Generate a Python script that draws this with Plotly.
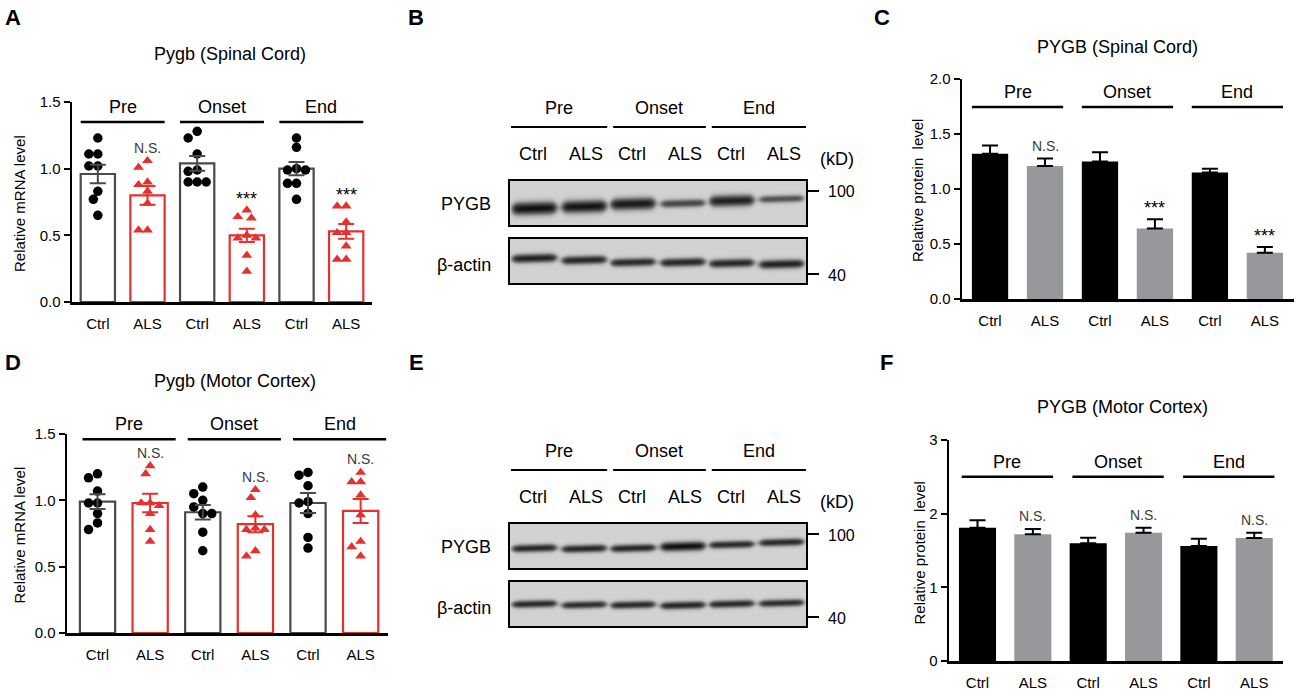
import numpy as np
import plotly.graph_objects as go

LANES = ["Ctrl", "ALS", "Ctrl", "ALS", "Ctrl", "ALS"]
STAGES = ["Pre", "Onset", "End"]

# A: Pygb mRNA, spinal cord (one value per animal, lanes in LANES order)
A_POINTS = [
    [1.23, 1.11, 1.11, 1.02, 1.02, 0.83, 0.77, 0.65],
    [1.06, 1.01, 0.90, 0.88, 0.83, 0.74, 0.54, 0.54],
    [1.28, 1.23, 1.11, 0.99, 0.98, 0.90, 0.90, 0.90],
    [0.69, 0.64, 0.63, 0.50, 0.48, 0.48, 0.35, 0.23],
    [1.23, 1.16, 1.00, 0.99, 0.99, 0.89, 0.89, 0.77],
    [0.72, 0.72, 0.60, 0.52, 0.52, 0.42, 0.32, 0.32],
]
A_MEAN = [0.96, 0.80, 1.04, 0.50, 1.00, 0.53]
A_SEM = [0.07, 0.07, 0.055, 0.05, 0.05, 0.055]
SIG_A = ["", "N.S.", "", "***", "", "***"]

# C: PYGB protein, spinal cord
C_MEAN = [1.32, 1.21, 1.25, 0.64, 1.15, 0.42]
C_SEM = [0.075, 0.067, 0.085, 0.085, 0.033, 0.052]
SIG_C = ["", "N.S.", "", "***", "", "***"]

# D: Pygb mRNA, motor cortex
D_POINTS = [
    [1.20, 1.17, 1.07, 0.98, 0.98, 0.90, 0.83, 0.78],
    [1.26, 1.20, 0.98, 0.98, 0.96, 0.90, 0.78, 0.69],
    [1.10, 1.05, 1.00, 0.95, 0.90, 0.90, 0.76, 0.62],
    [1.08, 1.02, 0.89, 0.79, 0.78, 0.78, 0.62, 0.58],
    [1.21, 1.19, 1.11, 0.99, 0.98, 0.90, 0.72, 0.64],
    [1.21, 1.14, 1.14, 1.04, 0.89, 0.69, 0.65, 0.58],
]
D_MEAN = [0.99, 0.98, 0.91, 0.82, 0.98, 0.92]
D_SEM = [0.055, 0.07, 0.055, 0.06, 0.075, 0.09]
SIG_D = ["", "N.S.", "", "N.S.", "", "N.S."]

# F: PYGB protein, motor cortex
F_MEAN = [1.81, 1.72, 1.60, 1.74, 1.56, 1.67]
F_SEM = [0.10, 0.072, 0.072, 0.068, 0.10, 0.072]
SIG_F = ["", "N.S.", "", "N.S.", "", "N.S."]

# western blot band strength per lane (0 = none, 1 = saturated)
B_PYGB = [0.95, 0.93, 0.90, 0.62, 0.86, 0.56]
B_ACTIN = [0.85, 0.82, 0.80, 0.82, 0.82, 0.85]
E_PYGB = [0.82, 0.82, 0.82, 0.95, 0.80, 0.80]
E_ACTIN = [0.80, 0.78, 0.80, 0.82, 0.80, 0.78]
KD_MARKS = ["100", "40"]

W, H = 1300, 690
FONT = "Liberation Sans, Arial, Helvetica, sans-serif"
RED = "#e5302d"
DARK = "#4a4a4a"
GRAY = "#97989b"


def px(x):
    return x / W


def py(y):
    return 1 - y / H


def note(x, y, text, size=18, xanchor="center", yanchor="middle", **kw):
    # text placed in page pixels
    d = dict(x=px(x), y=py(y), xref="paper", yref="paper", text=text, showarrow=False,
             xanchor=xanchor, yanchor=yanchor, font=dict(size=size, family=FONT, color="black"))
    d.update(kw)
    return d


def beeswarm(vals, ppu, ppx, d=9.0):
    placed = []
    offs = [0.0] * len(vals)
    for i in sorted(range(len(vals)), key=lambda k: -vals[k]):
        yp = vals[i] * ppu
        for k in [0, -1, 1, -2, 2, -3, 3, -4, 4]:
            xp = k * d * 0.5
            if all((xp - a) ** 2 + (yp - b) ** 2 >= (0.92 * d) ** 2 for a, b in placed):
                break
        placed.append((xp, yp))
        offs[i] = xp / ppx
    return offs


fig = go.Figure()
layout = dict(template="none", width=W, height=H, margin=dict(l=0, r=0, t=0, b=0, pad=0),
              paper_bgcolor="white", plot_bgcolor="white", showlegend=False,
              font=dict(family=FONT, color="black"))
annotations = []
shapes = []

# chart panels: box = (left px, right px, top px at ymax, bottom px at 0)
panels = [
    dict(n=1, mean=A_MEAN, sem=A_SEM, points=A_POINTS, sig=SIG_A, box=(72, 372, 102, 302),
         xr=[-0.52, 5.52], ymax=1.5, tv=[0, 0.5, 1.0, 1.5], fmt=".1f", bw=0.69,
         title="Pygb (Spinal Cord)", txy=(230, 52), ytitle="Relative mRNA level", ytx=19,
         gy=1.35, gdx=(0, 0)),
    dict(n=2, mean=C_MEAN, sem=C_SEM, points=None, sig=SIG_C, box=(962, 1294, 79, 299),
         xr=[-0.51, 5.53], ymax=2.0, tv=[0, 0.5, 1.0, 1.5, 2.0], fmt=".1f", bw=0.66,
         title="PYGB (Spinal Cord)", txy=(1117, 45), ytitle="Relative protein  level", ytx=917,
         gy=1.745, gdx=(0, 0)),
    dict(n=3, mean=D_MEAN, sem=D_SEM, points=D_POINTS, sig=SIG_D, box=(67, 388, 434, 633),
         xr=[-0.58, 5.52], ymax=1.5, tv=[0, 0.5, 1.0, 1.5], fmt=".1f", bw=0.67,
         title="Pygb (Motor Cortex)", txy=(235, 379), ytitle="Relative mRNA level", ytx=19,
         gy=1.46, gdx=(0.05, 0.15)),
    dict(n=4, mean=F_MEAN, sem=F_SEM, points=None, sig=SIG_F, box=(949, 1283, 440, 661),
         xr=[-0.515, 5.52], ymax=3, tv=[0, 1, 2, 3], fmt="d", bw=0.67,
         title="PYGB (Motor Cortex)", txy=(1122, 405), ytitle="Relative protein  level", ytx=919,
         gy=2.5, gdx=(0.05, 0.03)),
]

for p in panels:
    n = p["n"]
    xa, ya = ("x", "y") if n == 1 else ("x%d" % n, "y%d" % n)
    left, right, top, bottom = p["box"]
    ctrl = [0, 2, 4]
    als = [1, 3, 5]
    mean, sem = p["mean"], p["sem"]
    dots = p["points"] is not None
    if dots:
        for idx, col in ((ctrl, DARK), (als, RED)):
            fig.add_trace(go.Bar(x=idx, y=[mean[i] for i in idx], width=p["bw"],
                                 marker=dict(color="white", line=dict(color=col, width=2.2)),
                                 xaxis=xa, yaxis=ya, hoverinfo="skip"))
        ppu = (bottom - top) / p["ymax"]
        ppx = (right - left) / (p["xr"][1] - p["xr"][0])
        for i, vals in enumerate(p["points"]):
            offs = beeswarm(vals, ppu, ppx)
            is_ctrl = i % 2 == 0
            fig.add_trace(go.Scatter(
                x=[i + o for o in offs], y=vals, mode="markers", xaxis=xa, yaxis=ya,
                marker=dict(symbol="circle" if is_ctrl else "triangle-up", size=9.5,
                            color="black" if is_ctrl else RED, line=dict(width=0)),
                hoverinfo="skip"))
        for idx, col in ((ctrl, DARK), (als, RED)):
            fig.add_trace(go.Scatter(
                x=idx, y=[mean[i] for i in idx], mode="markers", xaxis=xa, yaxis=ya,
                marker=dict(size=2, opacity=0),
                error_y=dict(type="data", array=[sem[i] for i in idx], color=col, thickness=2, width=8),
                hoverinfo="skip"))
    else:
        for idx, col in ((ctrl, "black"), (als, GRAY)):
            fig.add_trace(go.Bar(
                x=idx, y=[mean[i] for i in idx], width=p["bw"], xaxis=xa, yaxis=ya,
                marker=dict(color=col, line=dict(width=0)),
                error_y=dict(type="data", symmetric=False, array=[sem[i] for i in idx],
                             arrayminus=[0] * 3, color="black", thickness=2, width=8),
                hoverinfo="skip"))

    axkey = "xaxis" if n == 1 else "xaxis%d" % n
    aykey = "yaxis" if n == 1 else "yaxis%d" % n
    layout[axkey] = dict(domain=[px(left), px(right)], range=p["xr"], anchor=ya, automargin=False,
                         showline=True, linecolor="black", linewidth=2.5, ticks="",
                         tickvals=list(range(6)), ticktext=LANES, ticklabelstandoff=6,
                         tickfont=dict(size=15, family=FONT, color="black"),
                         showgrid=False, zeroline=False, fixedrange=True)
    layout[aykey] = dict(domain=[py(bottom), py(top)], range=[0, p["ymax"]], anchor=xa, automargin=False,
                         showline=True, linecolor="black", linewidth=2.5, ticks="outside",
                         ticklen=6, tickwidth=2, tickcolor="black", tickvals=p["tv"],
                         tickformat=p["fmt"], tickfont=dict(size=15, family=FONT, color="black"),
                         showgrid=False, zeroline=False, fixedrange=True)

    # group bars with stage names
    half = p["bw"] / 2
    for g, stage in enumerate(STAGES):
        x0 = 2 * g - half + p["gdx"][0]
        x1 = 2 * g + 1 + half + p["gdx"][1]
        shapes.append(dict(type="line", xref=xa, yref=ya, x0=x0, x1=x1, y0=p["gy"], y1=p["gy"],
                           line=dict(color="black", width=2.5)))
        annotations.append(dict(x=(x0 + x1) / 2, y=p["gy"], xref=xa, yref=ya, text=stage,
                                xanchor="center", yanchor="middle",
                                showarrow=False, yshift=15, font=dict(size=18, family=FONT)))
    # significance
    for i, s in enumerate(p["sig"]):
        if not s:
            continue
        topv = mean[i] + sem[i]
        if dots:
            topv = max(topv, max(p["points"][i]))
        annotations.append(dict(x=i, y=topv, xref=xa, yref=ya, text=s, showarrow=False,
                                xanchor="center", yanchor="middle",
                                yshift=13 if s == "N.S." else 11,
                                font=dict(size=14 if s == "N.S." else 18, family=FONT,
                                          color="#3a3a3a" if s == "N.S." else "black")))
    annotations.append(note(p["txy"][0], p["txy"][1] + 2, p["title"]))
    annotations.append(note(p["ytx"], (top + bottom) / 2 + 2, p["ytitle"], size=15, textangle=-90))


# western blots
def blot_z(strength, centers, thick, nx=300, ny=46):
    xs = np.linspace(-0.5, 5.5, nx)
    ys = np.linspace(0, 1, ny)
    X, Y = np.meshgrid(xs, ys)
    bg = 0.86
    z = np.full(X.shape, bg)
    for i, (a, yc) in enumerate(zip(strength, centers)):
        dx = X - i
        win = 1 / (1 + np.exp((np.abs(dx) - 0.43) / 0.035))
        sig = thick * (0.35 + 0.65 * a ** 2) * (0.75 + 0.25 * win)
        z -= bg * a * np.exp(-((Y - yc - 0.03 * dx) / sig) ** 2) * win
    return xs, ys, np.clip(z, 0, 1)


# strips: (axis n, strength, band centres (fraction of strip height), thickness, top px, bottom px)
strips = [
    (5, B_PYGB, [0.38, 0.42, 0.48, 0.49, 0.55, 0.59], 0.14, 181, 225),
    (6, B_ACTIN, [0.56, 0.52, 0.47, 0.47, 0.45, 0.43], 0.11, 239, 283),
    (7, E_PYGB, [0.45, 0.44, 0.45, 0.49, 0.53, 0.58], 0.10, 524, 568),
    (8, E_ACTIN, [0.50, 0.48, 0.48, 0.47, 0.50, 0.52], 0.10, 582, 626),
]
BL, BR = 510, 806
for n, strength, centers, thick, top, bottom in strips:
    xs, ys, z = blot_z(strength, centers, thick)
    fig.add_trace(go.Heatmap(x=xs, y=ys, z=z, zmin=0, zmax=1, showscale=False,
                             colorscale=[[0, "#080808"], [0.5, "#6a6a6a"], [1, "#fafafa"]],
                             xaxis="x%d" % n, yaxis="y%d" % n, hoverinfo="skip"))
    layout["xaxis%d" % n] = dict(domain=[px(BL), px(BR)], range=[-0.5, 5.5], anchor="y%d" % n,
                                 automargin=False, showline=True, mirror=True, linecolor="black",
                                 linewidth=2, showticklabels=False, ticks="", showgrid=False,
                                 zeroline=False)
    layout["yaxis%d" % n] = dict(domain=[py(bottom), py(top)], range=[0, 1], anchor="x%d" % n,
                                 automargin=False, showline=True, mirror=True, linecolor="black",
                                 linewidth=2, showticklabels=False, ticks="", showgrid=False,
                                 zeroline=False)

for xa_n, top_p, top_a, bot_a in ((5, 181, 239, 283), (7, 524, 582, 626)):
    xa = "x%d" % xa_n
    gline = top_p - 54
    for g, stage in enumerate(STAGES):
        x0 = 2 * g - 0.48 + (0.07 if g else 0)
        x1 = 2 * g + 1.47 + (0.05 if g == 2 else 0)
        shapes.append(dict(type="line", xref=xa, yref="paper", x0=x0, x1=x1,
                           y0=py(gline), y1=py(gline), line=dict(color="black", width=2)))
        annotations.append(dict(x=(x0 + x1) / 2, y=py(gline - 19), xref=xa, yref="paper",
                                xanchor="center", yanchor="middle",
                                text=stage, showarrow=False, font=dict(size=18, family=FONT)))
    for i, lab in enumerate(LANES):
        annotations.append(dict(x=i + (0.05 if lab == "ALS" else -0.03), y=py(top_p - 27),
                                xref=xa, yref="paper", text=lab, showarrow=False,
                                xanchor="center", yanchor="middle",
                                font=dict(size=18, family=FONT)))
    annotations.append(note(837, top_p - 22, "(kD)"))
    annotations.append(note(493, top_p + 22 + 1, "PYGB", xanchor="right"))
    annotations.append(note(493, (top_a + bot_a) / 2 + 4, "β-actin", xanchor="right"))
    for lab, ym in zip(KD_MARKS, (top_p + 10, bot_a - 9)):
        shapes.append(dict(type="line", xref="paper", yref="paper", x0=px(BR), x1=px(BR + 13),
                           y0=py(ym), y1=py(ym), line=dict(color="black", width=2)))
        annotations.append(note(BR + 20, ym + 1, lab, size=16, xanchor="left"))

# panel letters
for lab, x, y in (("A", 13, 17), ("B", 416, 17), ("C", 882, 17),
                  ("D", 13, 362), ("E", 416, 362), ("F", 886, 362)):
    annotations.append(note(x, y, "<b>%s</b>" % lab, size=22))

layout["annotations"] = annotations
layout["shapes"] = shapes
fig.update_layout(**layout)
# drop the page's default body margin so the figure sits at the window's corner
fig.write_html("out.html", config={"displayModeBar": False, "staticPlot": True},
               post_script="document.body.style.margin='0';")
